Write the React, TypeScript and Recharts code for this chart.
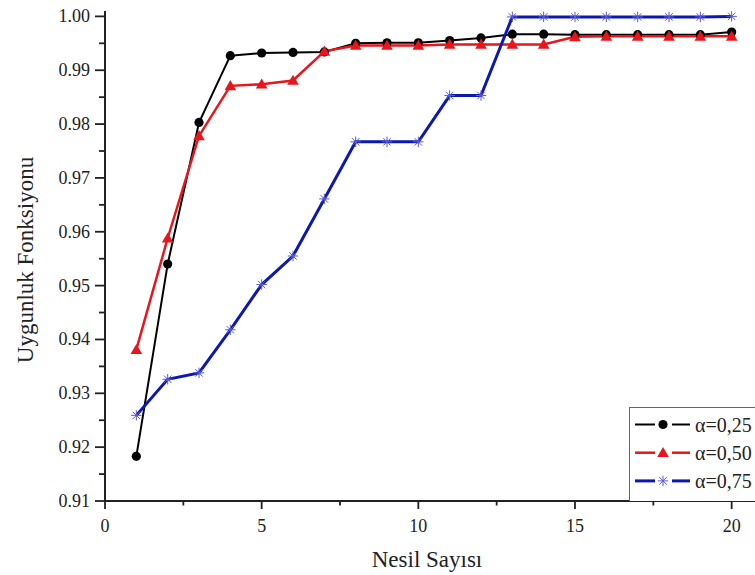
import React from 'react';
import { LineChart, Line, XAxis, YAxis, Legend } from 'recharts';

const generations = [1, 2, 3, 4, 5, 6, 7, 8, 9, 10, 11, 12, 13, 14, 15, 16, 17, 18, 19, 20];
const alpha025 = [0.9183, 0.954, 0.9803, 0.9927, 0.9932, 0.9933, 0.9934, 0.995, 0.9951, 0.9951, 0.9955, 0.996, 0.9967, 0.9967, 0.9966, 0.9966, 0.9966, 0.9966, 0.9966, 0.9971];
const alpha050 = [0.9381, 0.9588, 0.9778, 0.9871, 0.9874, 0.9881, 0.9935, 0.9946, 0.9946, 0.9946, 0.9948, 0.9948, 0.9948, 0.9948, 0.9962, 0.9963, 0.9963, 0.9963, 0.9963, 0.9963];
const alpha075 = [0.9259, 0.9326, 0.9338, 0.9418, 0.9502, 0.9555, 0.9661, 0.9767, 0.9767, 0.9767, 0.9853, 0.9853, 0.9999, 0.9999, 0.9999, 0.9999, 0.9999, 0.9999, 0.9999, 1.0];

const seriesKeys = ['a25', 'a50', 'a75'];
const seriesNames = ['α=0,25', 'α=0,50', 'α=0,75'];
const seriesColors = ['#000000', '#e8161c', '#0c18b0'];
const markerColors = ['#000000', '#e8161c', '#5b5bd6'];
const markerTypes = ['circle', 'triangle', 'star'];
const lineWidths = [2, 2.5, 3];

const xMajorTicks = [0, 5, 10, 15, 20];
const xMinorTicks = [2.5, 7.5, 12.5, 17.5];
const yMajorTicks = [0.91, 0.92, 0.93, 0.94, 0.95, 0.96, 0.97, 0.98, 0.99, 1.0];
const yMinorTicks = [0.915, 0.925, 0.935, 0.945, 0.955, 0.965, 0.975, 0.985, 0.995];

const xTitle = 'Nesil Sayısı';
const yTitle = 'Uygunluk Fonksiyonu';

const data = generations.map((g, i) => ({
  gen: g,
  a25: alpha025[i],
  a50: alpha050[i],
  a75: alpha075[i],
}));

const FONT = 'Times New Roman, Times, Liberation Serif, serif';
const AXIS_COLOR = '#222';

const isMajor = (v: number, list: number[]) => list.some((m) => Math.abs(m - v) < 1e-6);

const xTicks = [...xMajorTicks, ...xMinorTicks].sort((a, b) => a - b);
const yTicks = [...yMajorTicks, ...yMinorTicks].sort((a, b) => a - b);

function Marker({ type, cx, cy, color }: { type: string; cx: number; cy: number; color: string }) {
  if (type === 'circle') return <circle cx={cx} cy={cy} r={4.6} fill={color} />;
  if (type === 'triangle') {
    const s = 5.8;
    return (
      <polygon
        points={`${cx},${cy - s} ${cx + s},${cy + s * 0.75} ${cx - s},${cy + s * 0.75}`}
        fill={color}
      />
    );
  }
  const r = 5.2;
  const d = r * 0.72;
  return (
    <g stroke={color} strokeWidth={1}>
      <line x1={cx} y1={cy - r} x2={cx} y2={cy + r} />
      <line x1={cx - r} y1={cy} x2={cx + r} y2={cy} />
      <line x1={cx - d} y1={cy - d} x2={cx + d} y2={cy + d} />
      <line x1={cx - d} y1={cy + d} x2={cx + d} y2={cy - d} />
    </g>
  );
}

const XTick = (props: any) => {
  const { x, y, payload } = props;
  const major = isMajor(payload.value, xMajorTicks);
  return (
    <g>
      <line x1={x} x2={x} y1={y} y2={y + (major ? 8 : 4.5)} stroke={AXIS_COLOR} strokeWidth={1.8} />
      {major && (
        <text x={x} y={y + 31} textAnchor="middle" fontFamily={FONT} fontSize={18} fill="#222">
          {String(payload.value)}
        </text>
      )}
    </g>
  );
};

const YTick = (props: any) => {
  const { x, y, payload } = props;
  const major = isMajor(payload.value, yMajorTicks);
  return (
    <g>
      <line x1={x - (major ? 10 : 6)} x2={x} y1={y} y2={y} stroke={AXIS_COLOR} strokeWidth={1.8} />
      {major && (
        <text x={x - 15} y={y} textAnchor="end" dominantBaseline="central" fontFamily={FONT} fontSize={18} fill="#222">
          {Number(payload.value).toFixed(2)}
        </text>
      )}
    </g>
  );
};

const XTitle = (props: any) => {
  const vb = props.viewBox;
  return (
    <text x={vb.x + vb.width / 2 - 7} y={vb.y + 66} textAnchor="middle" fontFamily={FONT} fontSize={23} fill="#222">
      {xTitle}
    </text>
  );
};

const YTitle = (props: any) => {
  const vb = props.viewBox;
  const cx = vb.x + 25;
  const cy = vb.y + vb.height / 2 + 4;
  return (
    <text
      x={cx}
      y={cy}
      transform={`rotate(-90, ${cx}, ${cy})`}
      textAnchor="middle"
      dominantBaseline="central"
      fontFamily={FONT}
      fontSize={23}
      fill="#222"
    >
      {yTitle}
    </text>
  );
};

const LegendBox = (props: any) => {
  const payload = props.payload || [];
  return (
    <svg width={140} height={94} style={{ display: 'block' }}>
      <rect x={0.5} y={0.5} width={200} height={120} fill="#fff" stroke="#666" strokeWidth={1} />
      {payload.map((entry: any, i: number) => {
        const idx = seriesKeys.indexOf(entry.dataKey);
        const k = idx >= 0 ? idx : i;
        const cy = 17.5 + k * 28.2;
        return (
          <g key={`leg-${k}`}>
            <line x1={6} x2={26} y1={cy} y2={cy} stroke={seriesColors[k]} strokeWidth={lineWidths[k]} />
            <line x1={43} x2={61} y1={cy} y2={cy} stroke={seriesColors[k]} strokeWidth={lineWidths[k]} />
            <Marker type={markerTypes[k]} cx={34} cy={cy} color={markerColors[k]} />
            <text x={66} y={cy} dominantBaseline="central" fontFamily={FONT} fontSize={20} fill="#222">
              {seriesNames[k]}
            </text>
          </g>
        );
      })}
    </svg>
  );
};

export default function App() {
  return (
    <div style={{ position: 'absolute', left: 0, top: 0, width: 755, height: 575, overflow: 'hidden', background: '#fff' }}>
      <LineChart width={773} height={575} data={data} margin={{ top: 11, right: 10, bottom: 0, left: 0 }}>
        <XAxis
          xAxisId="top"
          orientation="top"
          dataKey="gen"
          type="number"
          domain={[0, 21]}
          height={0}
          tick={false}
          tickLine={false}
          axisLine={{ stroke: AXIS_COLOR, strokeWidth: 1.6 }}
        />
        <XAxis
          dataKey="gen"
          type="number"
          domain={[0, 21]}
          ticks={xTicks}
          interval={0}
          height={74}
          tickSize={0}
          tickMargin={0}
          tickLine={false}
          tick={<XTick />}
          axisLine={{ stroke: AXIS_COLOR, strokeWidth: 2 }}
          label={{ content: <XTitle /> } as any}
        />
        <YAxis
          type="number"
          domain={[0.91, 1.001]}
          ticks={yTicks}
          interval={0}
          width={105}
          tickSize={0}
          tickMargin={0}
          tickLine={false}
          tick={<YTick />}
          axisLine={{ stroke: AXIS_COLOR, strokeWidth: 2 }}
          allowDataOverflow
          label={{ content: <YTitle /> } as any}
        />
        <Legend
          layout="vertical"
          align="center"
          verticalAlign="middle"
          content={<LegendBox />}
          wrapperStyle={{ position: 'absolute', left: 629, top: 407, width: 140, height: 94, margin: 0, padding: 0 }}
        />
        {seriesKeys.map((key, k) => (
          <Line
            key={key}
            dataKey={key}
            name={seriesNames[k]}
            type="linear"
            stroke={seriesColors[k]}
            strokeWidth={lineWidths[k]}
            isAnimationActive={false}
            activeDot={false}
            dot={(p: any) => (
              <g key={`${key}-dot-${p.index}`}>
                <Marker type={markerTypes[k]} cx={p.cx} cy={p.cy} color={markerColors[k]} />
              </g>
            )}
          />
        ))}
      </LineChart>
    </div>
  );
}
